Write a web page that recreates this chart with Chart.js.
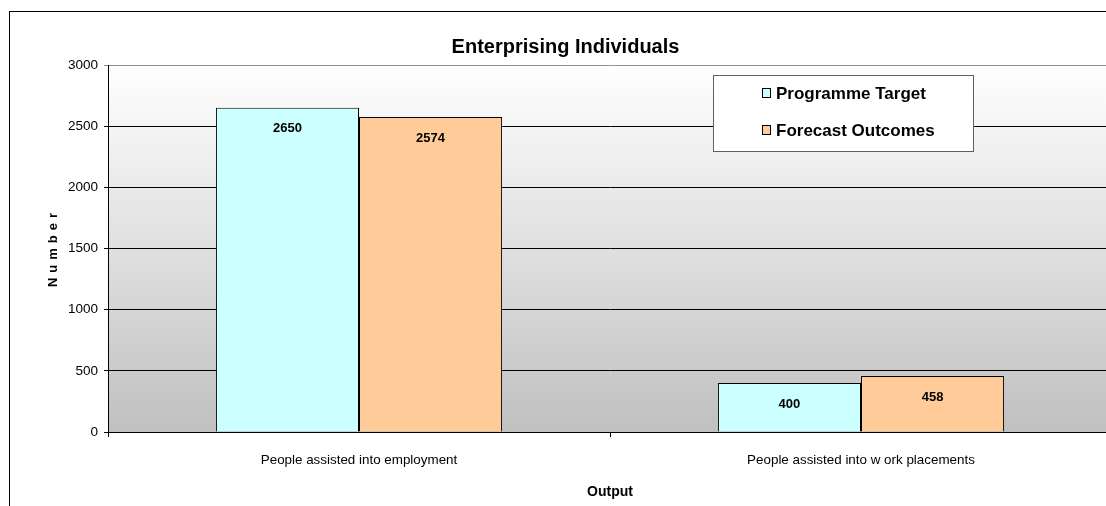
<!DOCTYPE html>
<html>
<head>
<meta charset="utf-8">
<script src="https://cdn.jsdelivr.net/npm/chart.js@4.4.1/dist/chart.umd.min.js"></script>
<style>
html,body{margin:0;padding:0;background:#fff;overflow:hidden;width:1106px;height:506px;}
canvas{display:block;}
</style>
</head>
<body>
<canvas id="c" width="1120" height="506"></canvas>
<script>
const categories = ['People assisted into employment', 'People assisted into w ork placements'];
const programmeTarget = [2650, 400];
const forecastOutcomes = [2574, 458];
const seriesNames = ['Programme Target', 'Forecast Outcomes'];
const yTicks = [0, 500, 1000, 1500, 2000, 2500, 3000];
const chartTitle = 'Enterprising Individuals';
const xTitle = 'Output';
const yTitle = 'Number';

const FAM = "'Liberation Sans', Arial, sans-serif";

const bgPlugin = {
  id: 'bg',
  beforeDraw(chart) {
    const {ctx, chartArea: a} = chart;
    const g = ctx.createLinearGradient(0, a.top, 0, a.bottom);
    g.addColorStop(0, '#ffffff');
    g.addColorStop(1, '#c0c0c0');
    ctx.save();
    ctx.fillStyle = g;
    ctx.fillRect(a.left, a.top, a.right - a.left, a.bottom - a.top);
    ctx.restore();
  }
};

const overlayPlugin = {
  id: 'overlay',
  afterDatasetsDraw(chart) {
    const {ctx} = chart;
    ctx.save();
    ctx.font = "bold 13px " + FAM;
    ctx.fillStyle = '#000';
    ctx.textAlign = 'center';
    ctx.textBaseline = 'middle';
    chart.data.datasets.forEach((ds, i) => {
      chart.getDatasetMeta(i).data.forEach((bar, j) => {
        ctx.fillText(String(ds.data[j]), bar.x, bar.y + 21);
      });
    });
    ctx.restore();
  },
  afterDraw(chart) {
    const {ctx} = chart;
    ctx.save();
    // legend box
    ctx.fillStyle = '#fff';
    ctx.fillRect(713.5, 75.5, 260, 76);
    ctx.strokeStyle = '#606060';
    ctx.lineWidth = 1;
    ctx.strokeRect(713.5, 75.5, 260, 76);
    const rows = [93, 130];
    ctx.font = "bold 17px " + FAM;
    ctx.textAlign = 'left';
    ctx.textBaseline = 'middle';
    chart.data.datasets.forEach((ds, i) => {
      const y = rows[i];
      ctx.fillStyle = ds.backgroundColor;
      ctx.fillRect(762.5, y - 4.5, 8, 9);
      ctx.strokeStyle = '#000';
      ctx.strokeRect(762.5, y - 4.5, 8, 9);
      ctx.fillStyle = '#000';
      ctx.fillText(ds.label, 776, y + 1);
    });
    // y axis title with letter spacing
    ctx.save();
    ctx.translate(53, 250);
    ctx.rotate(-Math.PI / 2);
    ctx.font = "bold 13px " + FAM;
    try { ctx.letterSpacing = '5px'; } catch (e) {}
    ctx.textAlign = 'center';
    ctx.textBaseline = 'middle';
    ctx.fillStyle = '#000';
    ctx.fillText(yTitle, 2.5, 0);
    ctx.restore();
    // outer frame
    ctx.strokeStyle = '#000';
    ctx.lineWidth = 1;
    ctx.strokeRect(9.5, 11.5, 3000, 3000);
    ctx.restore();
  }
};

new Chart(document.getElementById('c'), {
  type: 'bar',
  data: {
    labels: categories,
    datasets: [
      { label: seriesNames[0], data: programmeTarget, backgroundColor: '#ccffff', borderColor: '#000', borderWidth: 1, borderSkipped: 'bottom' },
      { label: seriesNames[1], data: forecastOutcomes, backgroundColor: '#ffcc99', borderColor: '#000', borderWidth: 1, borderSkipped: 'bottom' }
    ]
  },
  options: {
    responsive: false,
    animation: false,
    devicePixelRatio: 1,
    layout: { padding: { left: 19, right: 8, top: 0, bottom: 0 } },
    datasets: { bar: { categoryPercentage: 0.57, barPercentage: 1.0 } },
    plugins: {
      legend: { display: false },
      tooltip: { enabled: false },
      title: {
        display: true,
        text: chartTitle,
        color: '#000',
        font: { family: FAM, size: 20, weight: 'bold', lineHeight: 1.2 },
        padding: { top: 35, bottom: 6 }
      }
    },
    scales: {
      x: {
        offset: true,
        grid: { display: true, drawOnChartArea: false, drawTicks: true, tickLength: 5, color: '#000', offset: true },
        border: { display: true, color: '#000', width: 1 },
        ticks: { color: '#000', font: { family: FAM, size: 13.4 }, padding: 15, maxRotation: 0, autoSkip: false },
        title: { display: true, text: xTitle, color: '#000', font: { family: FAM, size: 14, weight: 'bold', lineHeight: 1.2 }, padding: { top: 0, bottom: 5 } },
        afterFit(s) { s.height = 74; }
      },
      y: {
        min: 0,
        max: 3000,
        afterBuildTicks(s) { s.ticks = yTicks.map(v => ({ value: v })); },
        grid: { color: (c) => c.tick && c.tick.value === 3000 ? '#909090' : '#000', tickLength: 4, drawTicks: true },
        border: { display: true, color: '#000', width: 1 },
        ticks: { color: '#000', font: { family: FAM, size: 13.5 }, padding: 6, callback: (v) => String(v) },
        afterFit(s) { s.width = 89; }
      }
    }
  },
  plugins: [bgPlugin, overlayPlugin]
});
</script>
</body>
</html>
